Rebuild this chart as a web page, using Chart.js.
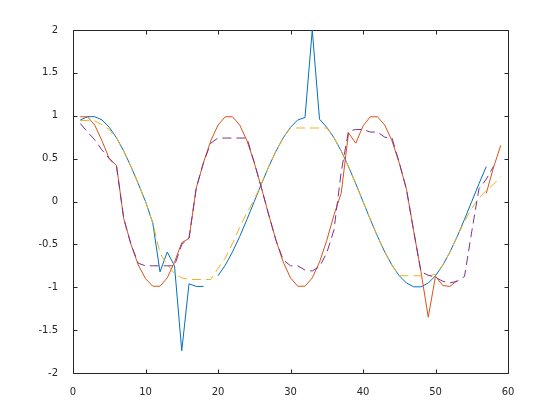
<!DOCTYPE html>
<html>
<head>
<meta charset="utf-8">
<script src="https://cdn.jsdelivr.net/npm/chart.js@4/dist/chart.umd.min.js"></script>
<style>
html,body{margin:0;padding:0;background:#fff;}
#wrap{width:560px;height:420px;}
</style>
</head>
<body>
<div id="wrap"><canvas id="c" width="560" height="420"></canvas></div>
<script>
const xs = [1,2,3,4,5,6,7,8,9,10,11,12,13,14,15,16,17,18,19,20,21,22,23,24,25,26,27,28,29,30,31,32,33,34,35,36,37,38,39,40,41,42,43,44,45,46,47,48,49,50,51,52,53,54,55,56,57,58,59];

const blueSeries = [0.951,0.989,0.989,0.951,0.866,0.743,0.588,0.407,0.208,0,
  -0.25,-0.82,-0.59,-0.75,-1.74,-0.96,-0.99,-0.99,null,-0.866,
  -0.743,-0.588,-0.407,-0.208,0,0.208,0.407,0.588,0.743,0.866,
  0.951,0.98,2.0,0.96,0.866,0.743,0.588,0.407,0.208,0,
  -0.208,-0.407,-0.588,-0.743,-0.866,-0.951,-0.995,-0.995,-0.951,-0.866,
  -0.743,-0.588,-0.407,-0.208,0,0.208,0.407,null,null];

const redSeries = [0.988,0.988,0.891,0.707,0.5,0.42,-0.2,-0.5,-0.74,-0.9,
  -0.988,-0.988,-0.891,-0.707,-0.48,-0.43,0.156,0.454,0.707,0.891,
  0.988,0.988,0.891,0.707,0.454,0.156,-0.156,-0.454,-0.707,-0.891,
  -0.988,-0.988,-0.891,-0.707,-0.454,-0.156,0.1,0.8,0.68,0.88,
  0.988,0.988,0.891,0.707,0.45,0.14,-0.35,-0.82,-1.35,-0.87,
  -0.98,-0.99,-0.92,null,null,null,0.094,0.397,0.655];

const yellowSeries = [0.945,0.945,0.94,0.895,0.84,0.743,0.588,0.407,0.208,0,
  -0.25,-0.6,-0.74,-0.84,-0.89,-0.91,-0.91,-0.91,-0.91,-0.78,
  -0.66,-0.49,-0.3,-0.13,0.02,0.208,0.407,0.588,0.743,0.857,
  0.857,0.857,0.857,0.857,0.857,0.743,0.588,0.407,0.208,0,
  -0.208,-0.407,-0.588,-0.743,-0.866,-0.866,-0.866,-0.866,-0.866,-0.85,
  -0.743,-0.588,-0.407,-0.23,-0.08,0.04,0.13,0.2,0.29];

const purpleSeries = [0.91,0.81,0.72,0.6,0.5,0.41,-0.2,-0.5,-0.72,-0.75,
  -0.75,-0.75,-0.75,-0.75,-0.5,-0.43,0.156,0.454,0.68,0.74,
  0.74,0.74,0.74,0.74,0.454,0.156,-0.156,-0.454,-0.68,-0.75,
  -0.75,-0.8,-0.81,-0.76,-0.6,-0.33,0.35,0.82,0.84,0.84,
  0.81,0.81,0.75,0.74,0.454,0.14,-0.35,-0.82,-0.86,-0.885,
  -0.93,-0.95,-0.93,-0.875,-0.35,0.15,0.26,0.41,null];

const xTicks = [0,10,20,30,40,50,60];
const yTicks = [-2,-1.5,-1,-0.5,0,0.5,1,1.5,2];

const axisColor = '#262626';
const fontFam = '"DejaVu Sans", sans-serif';

function pts(ys){ return xs.map((x,i)=>({x:x, y:ys[i]})); }

const frame = {
  id:'frame',
  beforeDatasetsDraw(chart){
    const {ctx, chartArea:a, scales} = chart;
    ctx.save();
    ctx.strokeStyle = axisColor;
    ctx.lineWidth = 1;
    const L = Math.round(a.left)+0.5, R = Math.round(a.right)+0.5, T = Math.round(a.top)+0.5, B = Math.round(a.bottom)+0.5;
    ctx.beginPath();
    ctx.rect(L, T, R-L, B-T);
    const tl = 4;
    xTicks.forEach(v=>{
      const px = Math.round(scales.x.getPixelForValue(v))+0.5;
      ctx.moveTo(px,B); ctx.lineTo(px,B-tl);
      ctx.moveTo(px,T); ctx.lineTo(px,T+tl);
    });
    yTicks.forEach(v=>{
      const py = Math.round(scales.y.getPixelForValue(v))+0.5;
      ctx.moveTo(L,py); ctx.lineTo(L+tl,py);
      ctx.moveTo(R,py); ctx.lineTo(R-tl,py);
    });
    ctx.stroke();
    ctx.restore();
  }
};

new Chart(document.getElementById('c'), {
  type:'line',
  data:{
    datasets:[
      {label:'s1', data:pts(blueSeries), borderColor:'#0072BD', borderWidth:1, order:3},
      {label:'s2', data:pts(redSeries), borderColor:'#D95319', borderWidth:1, order:2},
      {label:'s3', data:pts(yellowSeries), borderColor:'#EDB120', borderWidth:1, borderDash:[9,5], order:1},
      {label:'s4', data:pts(purpleSeries), borderColor:'#7E2F8E', borderWidth:1, borderDash:[9,5], order:0}
    ]
  },
  options:{
    responsive:false,
    animation:false,
    spanGaps:false,
    elements:{point:{radius:0}, line:{tension:0, fill:false}},
    layout:{padding:{top:30, right:52, left:0, bottom:0}},
    plugins:{legend:{display:false}, tooltip:{enabled:false}},
    scales:{
      x:{type:'linear', min:0, max:60,
        afterFit(s){ s.height = 47; },
        afterBuildTicks(s){ s.ticks = xTicks.map(v=>({value:v})); },
        grid:{display:false}, border:{display:false},
        ticks:{color:axisColor, font:{family:fontFam, size:10}, padding:5, maxRotation:0,
          callback:(v)=>String(v)}
      },
      y:{type:'linear', min:-2, max:2,
        afterFit(s){ s.width = 73; },
        afterBuildTicks(s){ s.ticks = yTicks.map(v=>({value:v})); },
        grid:{display:false}, border:{display:false},
        ticks:{color:axisColor, font:{family:fontFam, size:10}, padding:7,
          callback:(v)=>String(v)}
      }
    }
  },
  plugins:[frame]
});
</script>
</body>
</html>
